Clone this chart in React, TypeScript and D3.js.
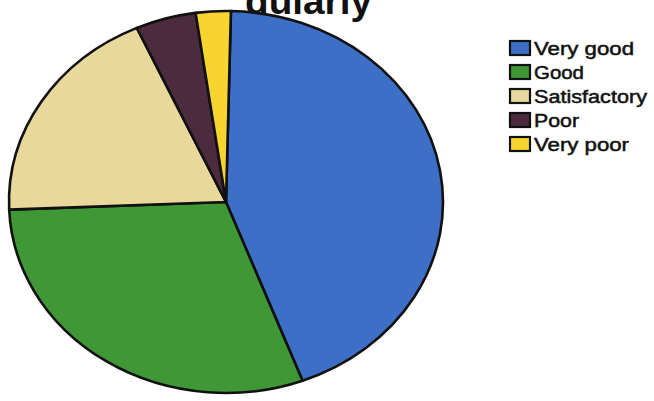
import React from "react";
import * as d3 from "d3";

const categories = ["Very good", "Good", "Satisfactory", "Poor", "Very poor"];
const values = [43.9, 30.1, 18.9, 4.5, 2.6];
const colors = ["#3d6fc6", "#3f9736", "#e9d89c", "#4b2b3d", "#f7d42e"];
const titleText = "gularly";
const legendWidths = [100, 50, 113, 45, 95];

const W = 654;
const H = 401;

export default function App() {
  const cx = 226;
  const cy = 202;
  const rx = 217;
  const ry = 191;
  const startA = (1.3 * Math.PI) / 180;

  const pie = d3
    .pie<number>()
    .sort(null)
    .value((d) => d)
    .startAngle(startA)
    .endAngle(startA + 2 * Math.PI);
  const arcs = pie(values);
  const arc = d3.arc<d3.PieArcDatum<number>>().innerRadius(0).outerRadius(ry);

  const legendY = d3
    .scaleBand<string>()
    .domain(categories)
    .range([36, 156])
    .paddingInner(0);

  return (
    <svg
      width={W}
      height={H}
      style={{ position: "absolute", left: 0, top: 0, background: "#fff" }}
      fontFamily="Liberation Sans, Arial, sans-serif"
    >
      <text
        x={245}
        y={14}
        fontSize={37}
        fontWeight="bold"
        fill="#111"
        textLength={127}
        lengthAdjust="spacingAndGlyphs"
      >
        {titleText}
      </text>
      <g transform={`translate(${cx},${cy}) scale(${rx / ry},1)`}>
        {arcs.map((a, i) => (
          <path
            key={categories[i]}
            d={arc(a) || ""}
            fill={colors[i]}
            stroke="#111"
            strokeWidth={2.6}
            strokeLinejoin="round"
            vectorEffect="non-scaling-stroke"
          />
        ))}
      </g>
      <g>
        {categories.map((c, i) => {
          const y = (legendY(c) || 0) + legendY.bandwidth() / 2;
          return (
            <g key={c}>
              <rect
                x={510}
                y={y - 7}
                width={20}
                height={14}
                fill={colors[i]}
                stroke="#111"
                strokeWidth={2.2}
              />
              <text
                x={534}
                y={y + 6.5}
                fontSize={18}
                fill="#111"
                stroke="#111"
                strokeWidth={0.5}
                textLength={legendWidths[i]}
                lengthAdjust="spacingAndGlyphs"
              >
                {c}
              </text>
            </g>
          );
        })}
      </g>
    </svg>
  );
}
